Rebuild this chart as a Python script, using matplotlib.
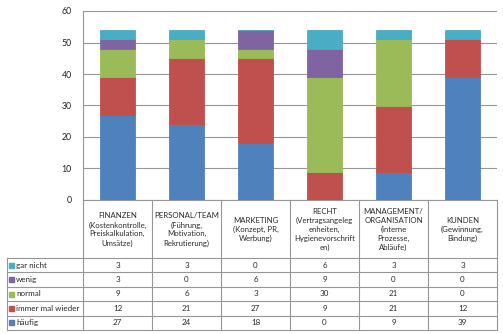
import matplotlib
matplotlib.use("Agg")
import matplotlib.pyplot as plt
import numpy as np

plt.rcParams['font.family'] = ['Lato', 'DejaVu Sans']

categories = [
    "FINANZEN\n(Kostenkontrolle,\nPreiskalkulation,\nUmsätze)",
    "PERSONAL/TEAM\n(Führung,\nMotivation,\nRekrutierung)",
    "MARKETING\n(Konzept, PR,\nWerbung)",
    "RECHT\n(Vertragsangeleg\nenheiten,\nHygienevorschrift\nen)",
    "MANAGEMENT/\nORGANISATION\n(interne\nProzesse,\nAbläufe)",
    "KUNDEN\n(Gewinnung,\nBindung)",
]
haeufig = [27, 24, 18, 0, 9, 39]
immer_mal_wieder = [12, 21, 27, 9, 21, 12]
normal = [9, 6, 3, 30, 21, 0]
wenig = [3, 0, 6, 9, 0, 0]
gar_nicht = [3, 3, 0, 6, 3, 3]

# bottom to top in the stack
series = [
    ("häufig", haeufig, "#4F81BD"),
    ("immer mal wieder", immer_mal_wieder, "#C0504D"),
    ("normal", normal, "#9BBB59"),
    ("wenig", wenig, "#8064A2"),
    ("gar nicht", gar_nicht, "#4BACC6"),
]

W, H = 503, 334
fig = plt.figure(figsize=(W / 100, H / 100), dpi=100)

# plot area in pixels
px_left, px_right, px_top, px_bottom = 83, 497, 11, 200
ax = fig.add_axes([px_left / W, 1 - px_bottom / H,
                   (px_right - px_left) / W, (px_bottom - px_top) / H])

x = np.arange(len(categories))
bottom = np.zeros(len(categories))
for name, vals, col in series:
    ax.bar(x, vals, 0.5, bottom=bottom, color=col, edgecolor=col, linewidth=0.6, zorder=3)
    bottom += np.array(vals)

ax.set_xlim(-0.5, len(categories) - 0.5)
ax.set_ylim(0, 60)
ax.set_yticks(range(0, 61, 10))
ax.set_xticks([])
ax.grid(axis='y', color='#969696', linewidth=0.8, zorder=0)
ax.tick_params(axis='y', length=0, pad=8, labelsize=6.3, colors='#222222')
for s in ['top', 'right']:
    ax.spines[s].set_visible(False)
for s in ['left', 'bottom']:
    ax.spines[s].set_color('#969696')
    ax.spines[s].set_linewidth(0.8)

# data table below the plot, drawn on a pixel-coordinate overlay
tab = fig.add_axes([0, 0, 1, 1])
tab.set_xlim(0, W)
tab.set_ylim(H, 0)
tab.axis('off')

line_kw = dict(color='#969696', linewidth=0.8)
colw = (px_right - px_left) / len(categories)
col_edges = [px_left + i * colw for i in range(len(categories) + 1)]
header_bottom = 258
row_h = 14.4
n_rows = len(series)
table_bottom = header_bottom + n_rows * row_h
label_left = 7
txt = '#2a2a2a'

for xe in col_edges:
    tab.plot([xe, xe], [px_bottom, table_bottom], **line_kw)
tab.plot([label_left, label_left], [header_bottom, table_bottom], **line_kw)
for r in range(n_rows + 1):
    yy = header_bottom + r * row_h
    tab.plot([label_left, px_right], [yy, yy], **line_kw)

for i, cat in enumerate(categories):
    tab.text(px_left + (i + 0.5) * colw, (px_bottom + header_bottom) / 2 + 0.5, cat,
             ha='center', va='center', fontsize=5.6, color=txt, linespacing=1.32)

# rows top to bottom: reverse of stacking order
for r, (name, vals, col) in enumerate(series[::-1]):
    yc = header_bottom + (r + 0.5) * row_h
    tab.add_patch(plt.Rectangle((9, yc - 2.5), 5, 5, color=col))
    tab.text(16, yc, name, ha='left', va='center', fontsize=5.8, color=txt)
    for i, v in enumerate(vals):
        tab.text(px_left + (i + 0.5) * colw, yc, str(v), ha='center', va='center',
                 fontsize=5.8, color=txt)

fig.savefig("out.png", dpi=100)
